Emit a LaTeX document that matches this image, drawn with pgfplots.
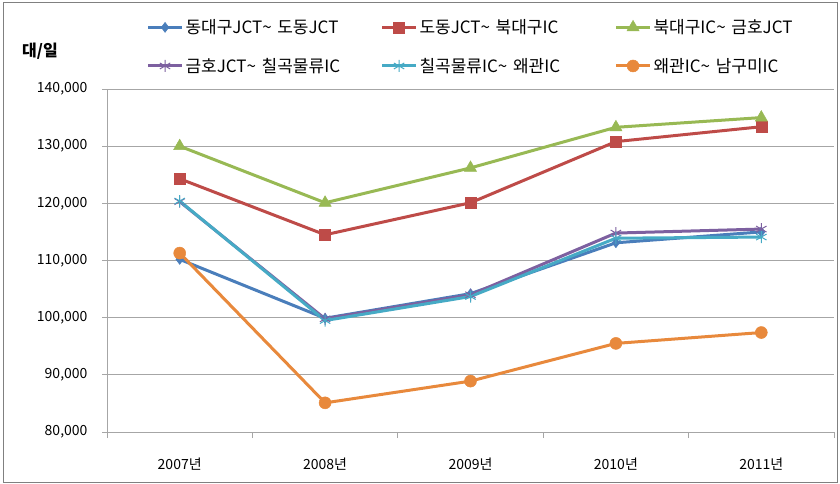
\documentclass[border=0pt]{standalone}
\usepackage{fontspec}
\setmainfont{Noto Sans CJK KR}
\usepackage{pgfplots}
\pgfplotsset{compat=1.18}

\definecolor{cBlue}{HTML}{4A7EBB}
\definecolor{cRed}{HTML}{BE4B48}
\definecolor{cGreen}{HTML}{98B954}
\definecolor{cPurple}{HTML}{7D60A0}
\definecolor{cCyan}{HTML}{46AAC5}
\definecolor{cOrange}{HTML}{E8893C}
\definecolor{cGrid}{HTML}{A6A6A6}
\definecolor{cFrame}{HTML}{808080}

\begin{document}
\begin{tikzpicture}
\useasboundingbox (0pt,0pt) rectangle (840pt,483pt);
\draw[cFrame, line width=1pt] (3pt,1pt) rectangle (837pt,480pt);
\node[font=\bfseries\fontsize{16}{18}\selectfont] at (40pt,432pt) {대/일};
\begin{axis}[
  at={(107pt,51pt)}, anchor=south west,
  scale only axis, width=727pt, height=343pt,
  xmin=-0.5, xmax=4.5, ymin=80000, ymax=140000,
  axis x line*=bottom, axis y line*=left,
  axis line style={cGrid, line width=1pt},
  xtick={0,...,4},
  xticklabels={2007년,2008년,2009년,2010년,2011년},
  major x tick style={draw=none},
  minor xtick={-0.5,0.5,...,4.5},
  minor tick length=6pt,
  ytick={80000,90000,...,140000},
  major tick length=5pt,
  tick align=outside,
  tick style={cGrid, line width=1pt},
  ymajorgrids, grid style={cGrid, line width=1pt},
  scaled y ticks=false,
  yticklabel={\pgfmathprintnumber[fixed, precision=0, 1000 sep={,}, assume math mode=true]{\tick}},
  ticklabel style={font=\fontsize{14}{16}\selectfont},
  xticklabel style={yshift=-17pt},
  yticklabel style={xshift=-11pt},
  every axis plot/.append style={line width=3pt},
  legend columns=3,
  legend style={draw=none, fill=none, at={(0.05,1)}, anchor=south west, yshift=11pt,
    font=\fontsize{17}{19}\selectfont, row sep=19pt,
    /tikz/every even column/.append style={text width=193pt},
    /tikz/column 6/.append style={text width=150pt}},
  legend cell align=left,
  legend image code/.code={\draw[mark repeat=2,mark phase=2] plot coordinates {(0pt,0pt) (17pt,0pt) (34pt,0pt)};},
]
\addplot[cBlue, mark=diamond*, mark size=5pt, mark options={solid, line width=0.5pt}]
  coordinates {(0,110200) (1,99900) (2,104200) (3,113100) (4,115000)};
\addplot[cRed, mark=square*, mark size=5.5pt, mark options={solid, line width=0.5pt}]
  coordinates {(0,124300) (1,114500) (2,120100) (3,130800) (4,133400)};
\addplot[cGreen, mark=triangle*, mark size=7pt, mark options={solid, line width=0.5pt}]
  coordinates {(0,130000) (1,120100) (2,126200) (3,133300) (4,135000)};
\addplot[cPurple, mark=asterisk, mark size=6pt, mark options={solid, line width=1pt}]
  coordinates {(0,120300) (1,99800) (2,104000) (3,114800) (4,115500)};
\addplot[cCyan, mark=asterisk, mark size=6pt, mark options={solid, line width=1pt}]
  coordinates {(0,120400) (1,99500) (2,103700) (3,113900) (4,114100)};
\addplot[cOrange, mark=*, mark size=6pt, mark options={solid, line width=0.5pt}]
  coordinates {(0,111300) (1,85100) (2,88900) (3,95500) (4,97400)};
\legend{동대구JCT\textasciitilde\ 도동JCT, 도동JCT\textasciitilde\ 북대구IC, 북대구IC\textasciitilde\ 금호JCT,
  금호JCT\textasciitilde\ 칠곡물류IC, 칠곡물류IC\textasciitilde\ 왜관IC, 왜관IC\textasciitilde\ 남구미IC}
\end{axis}
\end{tikzpicture}
\end{document}
